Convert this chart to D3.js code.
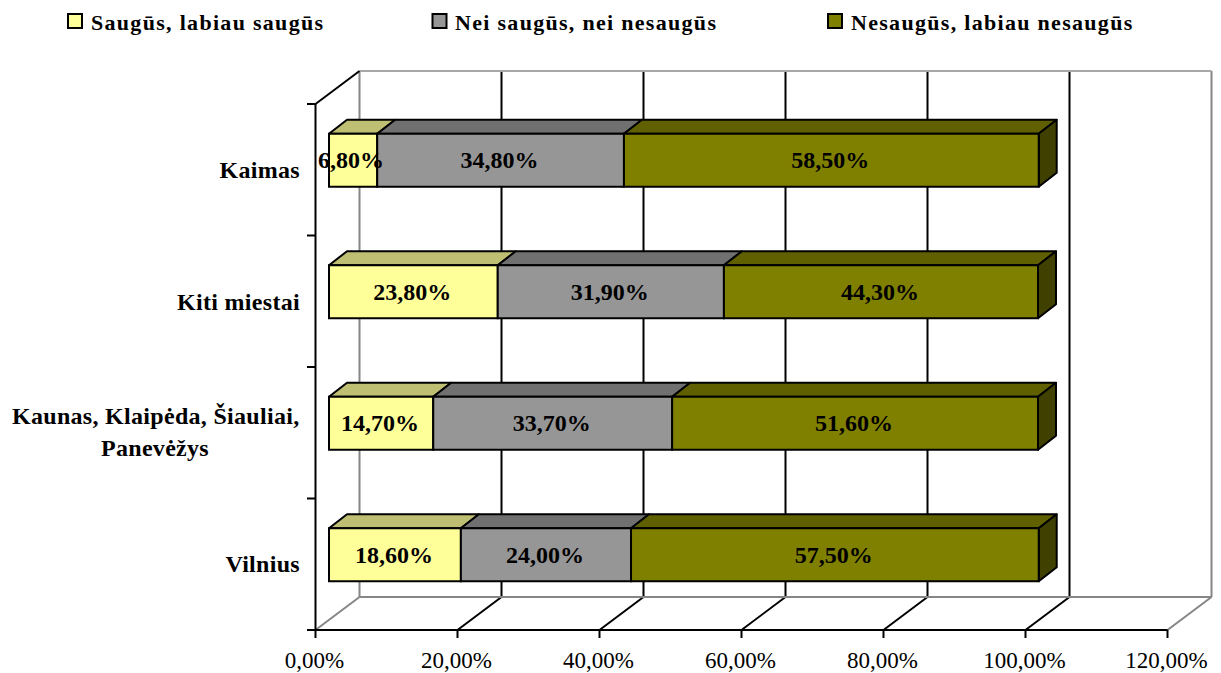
<!DOCTYPE html>
<html><head><meta charset="utf-8"><script src="https://cdn.jsdelivr.net/npm/d3@7"></script>
<style>html,body{margin:0;background:#fff}svg{display:block}text{font-family:"Liberation Serif",serif;fill:#000}</style></head>
<body><svg id="c" width="1221" height="673"></svg>
<script>
const categories = ["Kaimas","Kiti miestai","Kaunas, Klaipėda, Šiauliai, Panevėžys","Vilnius"];
const seriesNames = ["Saugūs, labiau saugūs","Nei saugūs, nei nesaugūs","Nesaugūs, labiau nesaugūs"];
const safe = [6.8,23.8,14.7,18.6];
const neutral = [34.8,31.9,33.7,24.0];
const unsafe = [58.5,44.3,51.6,57.5];
const tickValues = [0,20,40,60,80,100,120];
const faceColors = ["#FFFF99","#969696","#808000"];
const topColors = ["#BFBF73","#707070","#606000"];
const sideColor = "#404000";

const svg = d3.select("#c");
const x = d3.scaleLinear().domain([0,120]).range([315.5,1167.5]);
const barX = d3.scaleLinear().domain([0,100]).range([329,1038]);
const y = d3.scaleBand().domain(categories).range([104,630]).paddingInner(0).paddingOuter(0);
const wall = {dx:44,dy:-33}, bar = {oy:-10,dx:18,dy:-14,h:53};
const fmt = v => d3.format(".2f")(v).replace(".",",")+"%";
const line=(a,b,c,d,col,w=2)=>svg.append("line").attr("x1",a).attr("y1",b).attr("x2",c).attr("y2",d).attr("stroke",col).attr("stroke-width",w);
const yb=630, yt=104;
// walls
const gray="#868686";
tickValues.forEach(v=>{
  const c=(v===0||v===120)?gray:"#000";
  const X=x(v);
  line(X+wall.dx,yt+wall.dy,X+wall.dx,yb+wall.dy,c);
  if(v>0 && v<120) line(X,yb,X+wall.dx,yb+wall.dy,"#000");
});
line(x(0)+wall.dx,yt+wall.dy,x(120)+wall.dx,yt+wall.dy,"#a8a8a8");
line(x(0)+wall.dx,yb+wall.dy,x(120)+wall.dx,yb+wall.dy,gray);
line(x(0),yb,x(0)+wall.dx,yb+wall.dy,gray);
line(x(120),yb,x(120)+wall.dx,yb+wall.dy,gray);
line(x(0),yt,x(0)+wall.dx,yt+wall.dy,"#000");
// axes
line(x(0),yt,x(0),yb,"#000");
line(307,yb,x(120),yb,"#000");
[0,1,2,3,4].forEach(i=>{const t=yt+i*y.step();line(307,t,x(0),t,"#000");});
tickValues.forEach(v=>{
  line(x(v),yb,x(v),yb+8,"#000");
  svg.append("text").attr("x",x(v)-1).attr("y",667.5).attr("text-anchor","middle").attr("font-size",23).text(fmt(v));
});
// bars
const series=[safe,neutral,unsafe];
categories.forEach((cat,i)=>{
  const top=y(cat)+y.bandwidth()/2-26+bar.oy;
  let cum=0;
  const rects=series.map((s,k)=>{
    const a=barX(cum),b=barX(cum+s[i]);
    cum+=s[i];
    return {a,b,k,v:s[i]};
  });
  rects.forEach(r=>{
    svg.append("path").attr("d",d3.line()([[r.a,top],[r.a+bar.dx,top+bar.dy],[r.b+bar.dx,top+bar.dy],[r.b,top]])+"Z")
      .attr("fill",topColors[r.k]).attr("stroke","#000").attr("stroke-width",2).attr("stroke-linejoin","round");
  });
  const last=rects[2];
  svg.append("path").attr("d",d3.line()([[last.b,top],[last.b+bar.dx,top+bar.dy],[last.b+bar.dx,top+bar.dy+bar.h],[last.b,top+bar.h]])+"Z")
      .attr("fill",sideColor).attr("stroke","#000").attr("stroke-width",2).attr("stroke-linejoin","round");
  rects.forEach(r=>{
    svg.append("rect").attr("x",r.a).attr("y",top).attr("width",r.b-r.a).attr("height",bar.h)
      .attr("fill",faceColors[r.k]).attr("stroke","#000").attr("stroke-width",2);
  });
  rects.forEach(r=>{
    svg.append("text").attr("x",(r.a+r.b)/2-1+(r.k==0&&r.v<10?-1:0)).attr("y",top+bar.h/2+8).attr("text-anchor","middle")
      .attr("font-size",24).attr("font-weight","bold").text(fmt(r.v));
  });
});
// category labels
const catLabel=(t,px,py,anchor)=>svg.append("text").attr("x",px).attr("y",py).attr("text-anchor",anchor).attr("font-size",24).attr("font-weight","bold").attr("letter-spacing",0.3).text(t);
catLabel("Kaimas",300,178,"end");
catLabel("Kiti miestai",300,310,"end");
catLabel("Kaunas, Klaipėda, Šiauliai,",299.5,424,"end");
catLabel("Panevėžys",155,456,"middle");
catLabel("Vilnius",300,572,"end");
// legend
const legendX=[67,431.5,827];
const legendTextX=[91,455,851];
seriesNames.forEach((n,i)=>{
  svg.append("rect").attr("x",legendX[i]+1).attr("y",14).attr("width",14).attr("height",14)
    .attr("fill",faceColors[i]).attr("stroke","#000").attr("stroke-width",2);
  svg.append("text").attr("x",legendTextX[i]).attr("y",30).attr("font-size",22).attr("font-weight","bold").attr("letter-spacing",1.3).text(n);
});
</script></body></html>
